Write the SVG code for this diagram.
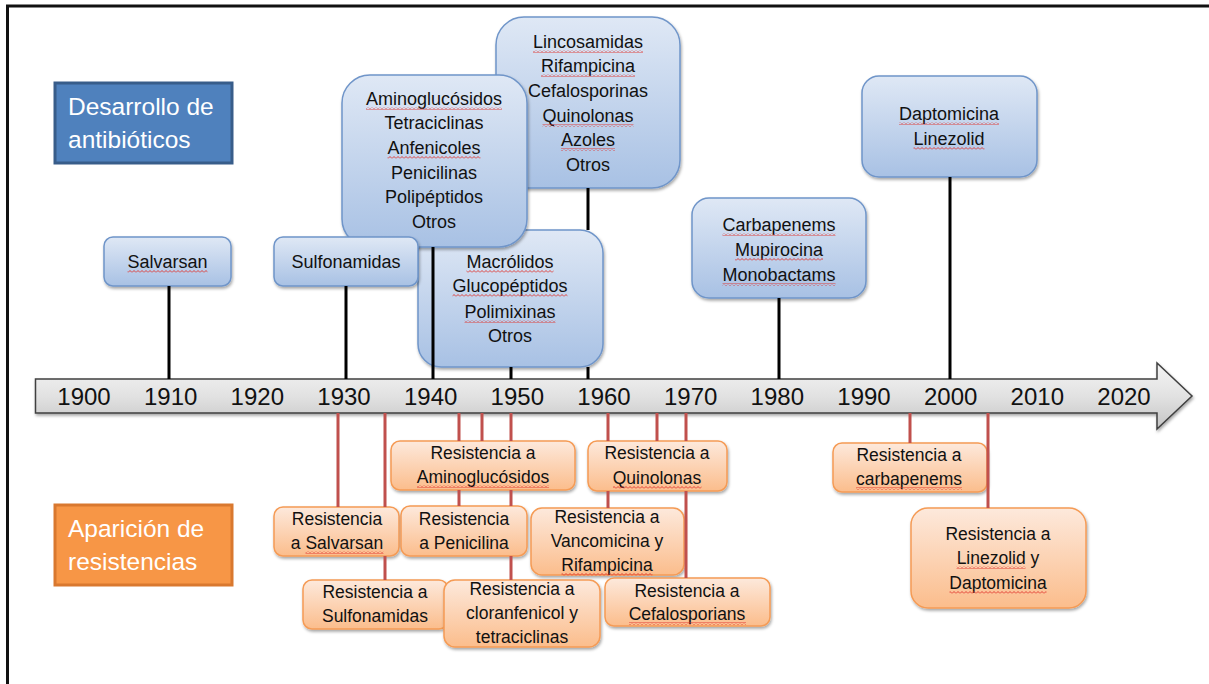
<svg xmlns="http://www.w3.org/2000/svg" width="1209" height="684" viewBox="0 0 1209 684">
<style>
.t{font-family:"Liberation Sans",Arial,sans-serif;fill:#111;text-anchor:middle}
.top{font-size:18px}
.bot{font-size:17.5px}
.yr{font-family:"Liberation Sans",Arial,sans-serif;font-size:24px;fill:#111;text-anchor:middle}
.ttl{font-family:"Liberation Sans",Arial,sans-serif;font-size:24.5px;fill:#fff}
.bb{fill:url(#gBlue);stroke:#6f95c9;stroke-width:1.5;filter:url(#sh)}
.ob{fill:url(#gOrange);stroke:#f59b55;stroke-width:1.5;filter:url(#sh)}
.bl{stroke:#000;stroke-width:3;fill:none}
.rl{stroke:#c0504d;stroke-width:3;fill:none}
.sq{fill:url(#wave)}
</style>
<defs>
<linearGradient id="gBlue" x1="0" y1="0" x2="0" y2="1">
<stop offset="0" stop-color="#dfe8f5"/><stop offset="1" stop-color="#a8c1e4"/>
</linearGradient>
<linearGradient id="gOrange" x1="0" y1="0" x2="0" y2="1">
<stop offset="0" stop-color="#fde9dc"/><stop offset="1" stop-color="#fbbd8c"/>
</linearGradient>
<linearGradient id="gGray" x1="0" y1="0" x2="0" y2="1">
<stop offset="0" stop-color="#f4f4f4"/><stop offset="0.5" stop-color="#e2e2e2"/><stop offset="1" stop-color="#c4c4c4"/>
</linearGradient>
<filter id="sh" x="-10%" y="-10%" width="125%" height="130%">
<feDropShadow dx="1" dy="2" stdDeviation="1.5" flood-color="#000" flood-opacity="0.35"/>
</filter>
<pattern id="wave" width="4" height="3" patternUnits="userSpaceOnUse">
<polyline points="0,2.5 2,0.5 4,2.5" fill="none" stroke="#e0302a" stroke-width="0.9"/>
</pattern>
</defs>
<rect width="1209" height="684" fill="#fff"/>
<path d="M7.5,684 V6 H1209" fill="none" stroke="#111" stroke-width="3"/>

<g id="title-desarrollo">
<rect x="55" y="83" width="177" height="80" fill="#4f81bd" stroke="#385d8a" stroke-width="3"/>
<text class="ttl" x="68" y="115">Desarrollo de</text>
<text class="ttl" x="68" y="148">antibióticos</text>
</g>
<g id="title-aparicion">
<rect x="55" y="505" width="177" height="80" fill="#f79646" stroke="#d9782f" stroke-width="3"/>
<text class="ttl" x="68" y="537">Aparición de</text>
<text class="ttl" x="68" y="570">resistencias</text>
</g>

<g id="timeline">
<path d="M35.5,379 H1157 V363 L1192,396 L1157,429 V413 H35.5 Z" fill="url(#gGray)" stroke="#404040" stroke-width="1.5" filter="url(#sh)"/>
<text class="yr" x="84" y="405">1900</text>
<text class="yr" x="170.7" y="405">1910</text>
<text class="yr" x="257.3" y="405">1920</text>
<text class="yr" x="344" y="405">1930</text>
<text class="yr" x="430.7" y="405">1940</text>
<text class="yr" x="517.3" y="405">1950</text>
<text class="yr" x="604" y="405">1960</text>
<text class="yr" x="690.7" y="405">1970</text>
<text class="yr" x="777.3" y="405">1980</text>
<text class="yr" x="864" y="405">1990</text>
<text class="yr" x="950.7" y="405">2000</text>
<text class="yr" x="1037.3" y="405">2010</text>
<text class="yr" x="1124" y="405">2020</text>
</g>

<g id="n-lincosamidas">
<rect class="bb" x="496" y="17" width="184" height="171" rx="28"/>
<text class="t top" x="588" y="48">Lincosamidas</text>
<text class="t top" x="588" y="72">Rifampicina</text>
<text class="t top" x="588" y="97">Cefalosporinas</text>
<text class="t top" x="588" y="122">Quinolonas</text>
<text class="t top" x="588" y="146">Azoles</text>
<text class="t top" x="588" y="171">Otros</text>
<rect class="sq" x="533" y="50" width="110" height="3"/>
<rect class="sq" x="541" y="74" width="94" height="3"/>
<rect class="sq" x="542.5" y="124" width="91" height="3"/>
<rect class="sq" x="561" y="148" width="54" height="3"/>
</g>
<g id="n-macrolidos">
<rect class="bb" x="418" y="230" width="185" height="137" rx="23"/>
<text class="t top" x="510" y="268">Macrólidos</text>
<text class="t top" x="510" y="292">Glucopéptidos</text>
<text class="t top" x="510" y="318">Polimixinas</text>
<text class="t top" x="510" y="342">Otros</text>
<rect class="sq" x="466.5" y="270" width="87" height="3"/>
<rect class="sq" x="452.5" y="294" width="115" height="3"/>
<rect class="sq" x="464.5" y="320" width="91" height="3"/>
</g>
<g id="n-aminoglucosidos">
<rect class="bb" x="342" y="75" width="185" height="172" rx="28"/>
<text class="t top" x="434" y="105">Aminoglucósidos</text>
<text class="t top" x="434" y="129">Tetraciclinas</text>
<text class="t top" x="434" y="154">Anfenicoles</text>
<text class="t top" x="434" y="179">Penicilinas</text>
<text class="t top" x="434" y="203">Polipéptidos</text>
<text class="t top" x="434" y="228">Otros</text>
<rect class="sq" x="366" y="107" width="136" height="3"/>
<rect class="sq" x="387.5" y="156" width="93" height="3"/>
</g>
<g id="n-salvarsan">
<rect class="bb" x="104" y="237" width="127" height="49" rx="9"/>
<text class="t top" x="167.5" y="268">Salvarsan</text>
<rect class="sq" x="127.5" y="270" width="80" height="3"/>
</g>
<g id="n-sulfonamidas">
<rect class="bb" x="274" y="237" width="144" height="49" rx="9"/>
<text class="t top" x="346" y="268">Sulfonamidas</text>
</g>
<g id="n-carbapenems">
<rect class="bb" x="692" y="198" width="174" height="100" rx="17"/>
<text class="t top" x="779" y="231">Carbapenems</text>
<text class="t top" x="779" y="256">Mupirocina</text>
<text class="t top" x="779" y="281">Monobactams</text>
<rect class="sq" x="722.5" y="233" width="113" height="3"/>
<rect class="sq" x="735" y="258" width="88" height="3"/>
<rect class="sq" x="722.5" y="283" width="113" height="3"/>
</g>
<g id="n-daptomicina">
<rect class="bb" x="862" y="76" width="175" height="101" rx="17"/>
<text class="t top" x="949" y="120">Daptomicina</text>
<text class="t top" x="949" y="145">Linezolid</text>
<rect class="sq" x="899" y="122" width="100" height="3"/>
<rect class="sq" x="913.5" y="147" width="71" height="3"/>
</g>

<g id="r-aminoglucosidos">
<rect class="ob" x="391" y="441" width="184" height="49" rx="9"/>
<text class="t bot" x="483" y="459">Resistencia a</text>
<text class="t bot" x="483" y="483">Aminoglucósidos</text>
<rect class="sq" x="417" y="485" width="132" height="3"/>
</g>
<g id="r-quinolonas">
<rect class="ob" x="588" y="441" width="139" height="50" rx="9"/>
<text class="t bot" x="657" y="459">Resistencia a</text>
<text class="t bot" x="657" y="484">Quinolonas</text>
<rect class="sq" x="613" y="486" width="88.5" height="3"/>
</g>
<g id="r-salvarsan">
<rect class="ob" x="274" y="507" width="125" height="49" rx="9"/>
<text class="t bot" x="337" y="525">Resistencia</text>
<text class="t bot" x="337" y="549">a Salvarsan</text>
<rect class="sq" x="305.5" y="551" width="78" height="3"/>
</g>
<g id="r-penicilina">
<rect class="ob" x="401" y="506" width="126" height="50" rx="9"/>
<text class="t bot" x="464" y="525">Resistencia</text>
<text class="t bot" x="464" y="549">a Penicilina</text>
</g>
<g id="r-vancomicina">
<rect class="ob" x="531" y="508" width="153" height="67" rx="11"/>
<text class="t bot" x="607" y="523">Resistencia a</text>
<text class="t bot" x="607" y="547">Vancomicina y</text>
<text class="t bot" x="607" y="571">Rifampicina</text>
<rect class="sq" x="561.5" y="573" width="91" height="3"/>
</g>
<g id="r-sulfonamidas">
<rect class="ob" x="303" y="580" width="145" height="49" rx="9"/>
<text class="t bot" x="375" y="598">Resistencia a</text>
<text class="t bot" x="375" y="622">Sulfonamidas</text>
</g>
<g id="r-cloranfenicol">
<rect class="ob" x="444" y="580" width="156" height="67" rx="11"/>
<text class="t bot" x="522" y="595">Resistencia a</text>
<text class="t bot" x="522" y="619">cloranfenicol y</text>
<text class="t bot" x="522" y="643">tetraciclinas</text>
</g>
<g id="r-cefalosporians">
<rect class="ob" x="605" y="578" width="165" height="48" rx="9"/>
<text class="t bot" x="687" y="597">Resistencia a</text>
<text class="t bot" x="687" y="620">Cefalosporians</text>
<rect class="sq" x="629" y="622" width="117" height="3"/>
</g>
<g id="r-carbapenems">
<rect class="ob" x="833" y="443" width="154" height="49" rx="9"/>
<text class="t bot" x="909" y="461">Resistencia a</text>
<text class="t bot" x="909" y="485">carbapenems</text>
<rect class="sq" x="856" y="487" width="106" height="3"/>
</g>
<g id="r-linezolid">
<rect class="ob" x="911" y="508" width="175" height="100" rx="17"/>
<text class="t bot" x="998" y="540">Resistencia a</text>
<text class="t bot" x="998" y="564">Linezolid y</text>
<text class="t bot" x="998" y="589">Daptomicina</text>
<rect class="sq" x="956.5" y="566" width="69" height="3"/>
<rect class="sq" x="949.5" y="591" width="97" height="3"/>
</g>

<g id="connectors">
<path class="bl" d="M169,286 V379 M346,286 V379 M433,247 V379 M511,367 V379 M588,188 V230 M588,367 V379 M779,298 V379 M950,177 V379"/>
<path class="rl" d="M338,413 V507 M385,413 V507 M385,556 V580 M459,413 V441 M459,490 V506 M482,413 V441 M511,413 V441 M511,490 V506 M511,556 V580 M608,413 V441 M608,491 V508 M657,413 V441 M686,413 V441 M686,491 V578 M910,413 V443 M988,413 V508"/>
</g>
</svg>
